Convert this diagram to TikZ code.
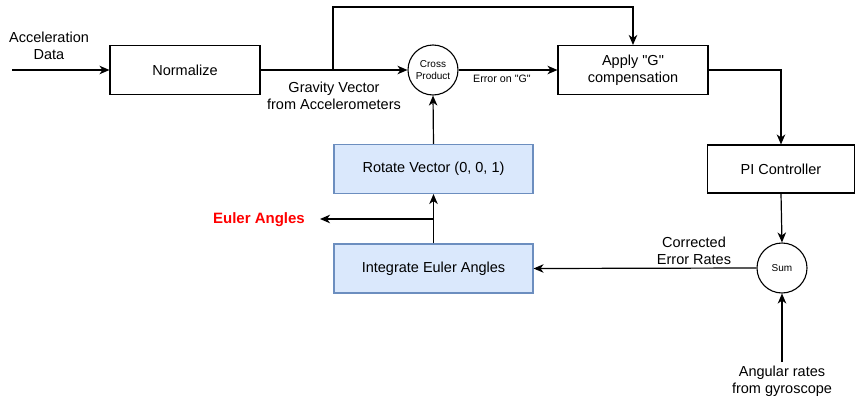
\documentclass[tikz,border=0pt]{standalone}
\usepackage{fontspec}
\setmainfont{Liberation Sans}
\usetikzlibrary{arrows.meta}
\definecolor{bluefill}{HTML}{DAE8FC}
\definecolor{blueline}{HTML}{6C8EBF}
\definecolor{eulerred}{HTML}{FF0000}
\begin{document}
\begin{tikzpicture}[x=1pt,y=-1pt,
  every node/.style={font=\fontsize{14.5}{17}\selectfont},
  box/.style={draw, line width=1.1pt, minimum width=150pt, minimum height=49pt, inner sep=0pt, align=center},
  bluebox/.style={box, fill=bluefill, draw=blueline, minimum width=199pt, minimum height=49pt},
  circ/.style={draw, line width=1.1pt, circle, minimum size=50pt, inner sep=0pt, align=center, font=\fontsize{10}{12.5}\selectfont},
  lbl/.style={align=center, inner sep=0pt},
  conn/.style={line width=1.2pt, -{Stealth[length=10pt,width=8.5pt,inset=3pt]}}
]
\useasboundingbox (0,0) rectangle (855,399);

\node[box] (norm) at (185,70) {Normalize};
\node[circ] (cross) at (433,70) {Cross\\Product};
\node[box] (apply) at (633,70) {Apply \textquotedbl G\textquotedbl\\compensation};
\node[box, minimum width=147pt, minimum height=48pt] (pi) at (781,169) {PI Controller};
\node[circ] (sum) at (782,268) {Sum};
\node[bluebox] (rot) at (433.5,169) {Rotate Vector (0, 0, 1)};
\node[bluebox] (integ) at (433.5,268.5) {Integrate Euler Angles};

\node[lbl] (acc) at (49,46) {Acceleration\\Data};
\node[lbl] (grav) at (334,96) {Gravity Vector\\from Accelerometers};
\node[lbl, font=\fontsize{10.7}{13}\selectfont] (err) at (502,79) {Error on \textquotedbl G\textquotedbl};
\node[lbl] (corr) at (694,251) {Corrected\\Error Rates};
\node[lbl] (ang) at (782,381) {Angular rates\\from gyroscope};
\node[lbl, font=\fontsize{15}{18}\selectfont\bfseries, text=eulerred] (euler) at (259,219.5) {Euler Angles};

\coordinate (accin) at (12,70);
\coordinate (branch) at (333,70);
\coordinate (split) at (433,219);
\coordinate (eulerout) at (320,219);
\coordinate (gyro) at (782,362);

\draw[conn] (accin) -- (norm.west);
\draw[conn] (norm.east) -- (cross.west);
\draw[conn] (branch) |- (633,7) -- (apply.north);
\draw[conn] (cross.east) -- (apply.west);
\draw[conn] (apply.east) -| (pi.north);
\draw[conn] (pi.south) -- (sum.north);
\draw[conn] (gyro) -- (sum.south);
\draw[conn] (sum.west) -- (integ.east);
\draw[conn] (integ.north) -- (rot.south);
\draw[conn] (split) -- (eulerout);
\draw[conn] (rot.north) -- (cross.south);
\end{tikzpicture}
\end{document}
